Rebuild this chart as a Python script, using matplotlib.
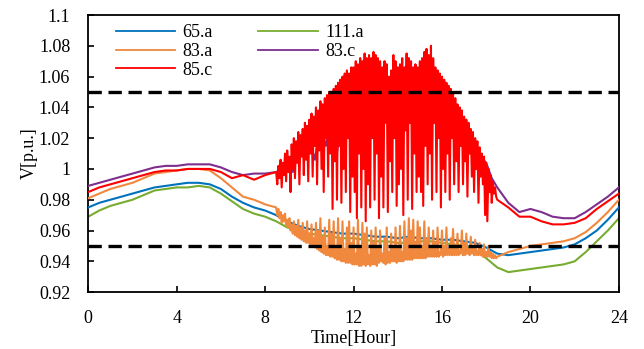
import numpy as np
import matplotlib
matplotlib.use("Agg")
import matplotlib.pyplot as plt

plt.rcParams["font.family"] = ["Liberation Serif", "DejaVu Serif"]

# half-hour samples over the whole day
hours = np.arange(0, 24.01, 0.5)
# split grids for the phases that swing during the PV hours
hours_head = np.arange(0, 8.01, 0.5)
hours_tail = np.arange(19, 24.01, 0.5)
hours_pv = np.round(np.arange(8.5, 18.501, 0.05), 2)
hours_pv_c = np.arange(8.5, 18.51, 0.25)

v_65a = [0.975, 0.978, 0.980, 0.982, 0.984, 0.986, 0.988, 0.989, 0.990, 0.991,
         0.991, 0.990, 0.987, 0.982, 0.978, 0.975, 0.973, 0.970, 0.966, 0.963,
         0.961, 0.960, 0.959, 0.958, 0.958, 0.957, 0.956, 0.956, 0.955, 0.956,
         0.955, 0.955, 0.954, 0.954, 0.953, 0.952, 0.949, 0.945, 0.944, 0.945,
         0.946, 0.947, 0.948, 0.949, 0.951, 0.955, 0.960, 0.967, 0.975]

v_111a = [0.969, 0.973, 0.976, 0.978, 0.980, 0.983, 0.986, 0.987, 0.988, 0.988,
          0.989, 0.988, 0.984, 0.979, 0.974, 0.971, 0.969, 0.966, 0.962, 0.960,
          0.958, 0.957, 0.956, 0.955, 0.955, 0.954, 0.953, 0.953, 0.952, 0.952,
          0.953, 0.953, 0.952, 0.951, 0.950, 0.947, 0.942, 0.936, 0.933, 0.934,
          0.935, 0.936, 0.937, 0.938, 0.940, 0.946, 0.953, 0.960, 0.968]

v_83a_head = [0.981, 0.984, 0.987, 0.989, 0.991, 0.994, 0.997, 0.998, 0.999,
              1.000, 1.000, 0.999, 0.994, 0.988, 0.982, 0.980, 0.977]
v_83a_pv = [
    0.975, 0.970, 0.974, 0.968, 0.972, 0.965, 0.970, 0.966, 0.971, 0.963,
    0.967, 0.962, 0.968, 0.960, 0.964, 0.958, 0.966, 0.957, 0.963, 0.956,
    0.967, 0.955, 0.962, 0.954, 0.965, 0.953, 0.960, 0.952, 0.966, 0.952,
    0.958, 0.951, 0.964, 0.950, 0.955, 0.949, 0.965, 0.948, 0.960, 0.947,
    0.968, 0.946, 0.956, 0.945, 0.962, 0.944, 0.950, 0.944, 0.967, 0.943,
    0.958, 0.943, 0.966, 0.942, 0.950, 0.941, 0.968, 0.941, 0.955, 0.940,
    0.966, 0.940, 0.948, 0.939, 0.962, 0.939, 0.966, 0.939, 0.952, 0.938,
    0.962, 0.938, 0.945, 0.938, 0.967, 0.937, 0.950, 0.937, 0.965, 0.938,
    0.958, 0.937, 0.962, 0.938, 0.944, 0.937, 0.960, 0.938, 0.952, 0.938,
    0.962, 0.937, 0.948, 0.939, 0.960, 0.940, 0.945, 0.939, 0.955, 0.938,
    0.962, 0.939, 0.946, 0.939, 0.958, 0.940, 0.950, 0.940, 0.962, 0.939,
    0.950, 0.940, 0.963, 0.940, 0.946, 0.940, 0.966, 0.941, 0.955, 0.941,
    0.968, 0.941, 0.960, 0.941, 0.967, 0.942, 0.952, 0.942, 0.966, 0.942,
    0.962, 0.942, 0.950, 0.942, 0.966, 0.942, 0.955, 0.943, 0.962, 0.943,
    0.948, 0.943, 0.960, 0.943, 0.952, 0.943, 0.962, 0.943, 0.946, 0.944,
    0.960, 0.943, 0.950, 0.944, 0.962, 0.944, 0.948, 0.944, 0.955, 0.944,
    0.961, 0.944, 0.950, 0.944, 0.958, 0.944, 0.947, 0.945, 0.960, 0.944,
    0.952, 0.944, 0.958, 0.945, 0.948, 0.944, 0.956, 0.945, 0.950, 0.944,
    0.954, 0.944, 0.947, 0.944, 0.952, 0.944, 0.948, 0.943, 0.951, 0.943,
    0.946, 0.943, 0.950, 0.943, 0.946, 0.942, 0.945, 0.942, 0.944, 0.942,
    0.943]
v_83a_tail = [0.946, 0.948, 0.950, 0.951, 0.952, 0.953, 0.955, 0.959, 0.965,
              0.972, 0.980]

v_85c_head = [0.985, 0.988, 0.990, 0.992, 0.994, 0.996, 0.998, 0.999, 0.999,
              1.000, 1.000, 1.000, 0.998, 0.994, 0.996, 0.993, 0.996]
v_85c_pv = [
    0.998, 0.990, 1.002, 0.994, 1.006, 0.988, 1.004, 0.996, 1.010, 0.992,
    1.012, 0.998, 1.008, 0.985, 1.016, 1.000, 1.020, 0.994, 1.018, 1.004,
    1.024, 0.990, 1.022, 1.008, 1.026, 0.996, 1.030, 1.006, 1.028, 0.992,
    1.032, 1.010, 1.036, 0.995, 1.034, 1.015, 1.040, 0.990, 1.038, 1.012,
    1.044, 1.000, 1.042, 0.985, 1.046, 1.020, 1.048, 0.995, 1.050, 1.010,
    1.050, 0.974, 1.052, 1.005, 1.054, 0.980, 1.056, 1.015, 1.058, 0.978,
    1.060, 1.000, 1.062, 0.985, 1.064, 1.020, 1.062, 0.972, 1.066, 0.995,
    1.066, 0.985, 1.070, 0.968, 1.068, 1.010, 1.072, 0.975, 1.070, 1.000,
    1.075, 0.966, 1.072, 0.990, 1.074, 0.975, 1.072, 1.020, 1.076, 0.980,
    1.074, 1.010, 1.072, 0.968, 1.070, 0.995, 1.066, 0.975, 1.070, 1.030,
    1.068, 0.972, 1.060, 1.005, 1.064, 0.985, 1.074, 1.020, 1.070, 0.976,
    1.066, 0.990, 1.068, 1.000, 1.072, 0.970, 1.066, 1.025, 1.075, 0.980,
    1.072, 1.030, 1.070, 0.974, 1.066, 1.010, 1.068, 0.985, 1.066, 0.995,
    1.070, 0.985, 1.072, 0.976, 1.076, 1.015, 1.078, 0.990, 1.074, 1.010,
    1.080, 0.980, 1.072, 1.030, 1.066, 0.985, 1.064, 1.020, 1.062, 0.975,
    1.060, 1.000, 1.058, 0.985, 1.056, 1.010, 1.054, 0.980, 1.052, 1.020,
    1.050, 0.990, 1.046, 1.005, 1.042, 0.985, 1.040, 1.015, 1.038, 0.990,
    1.034, 1.005, 1.032, 0.982, 1.030, 1.010, 1.026, 0.995, 1.024, 0.985,
    1.020, 1.000, 1.018, 0.978, 1.014, 0.995, 1.010, 0.990, 1.008, 0.970,
    1.004, 0.966, 1.000, 0.985, 0.996, 0.978, 0.992, 0.984, 0.988, 0.982,
    0.980]
v_85c_tail = [0.975, 0.969, 0.969, 0.966, 0.964, 0.964, 0.965, 0.968, 0.974,
              0.979, 0.984]

v_83c_head = [0.989, 0.991, 0.993, 0.995, 0.997, 0.999, 1.001, 1.002, 1.002,
              1.003, 1.003, 1.003, 1.001, 0.998, 0.996, 0.997, 0.997]
v_83c_pv = [0.998, 1.000, 1.006, 0.998, 1.014, 1.008, 1.020, 1.006, 1.028, 1.015,
            1.034, 1.010, 1.040, 1.020, 1.046, 1.025, 1.050, 1.030, 1.054, 1.035,
            1.050, 1.030, 1.048, 1.032, 1.054, 1.035, 1.056, 1.038, 1.050, 1.032,
            1.044, 1.030, 1.036, 1.022, 1.028, 1.018, 1.016, 1.008, 1.004, 0.994,
            0.988]
v_83c_tail = [0.978, 0.972, 0.974, 0.972, 0.969, 0.968, 0.968, 0.972, 0.977,
              0.982, 0.988]

v_upper, v_lower = 1.05, 0.95

fig, ax = plt.subplots(figsize=(6.44, 3.49), dpi=100)
fig.subplots_adjust(left=0.137, right=0.961, top=0.957, bottom=0.163)

lw = 1.5
t_full = np.concatenate([hours_head, hours_pv, hours_tail])
t_purple = np.concatenate([hours_head, hours_pv_c, hours_tail])
ax.plot(hours, v_65a, color="#0072BD", lw=lw, zorder=3, label="65.a")
ax.plot(t_full, v_83a_head + v_83a_pv + v_83a_tail,
        color="#F0883E", lw=lw, zorder=4, label="83.a")
ax.plot(t_full, v_85c_head + v_85c_pv + v_85c_tail,
        color="#FF0000", lw=lw, zorder=6, label="85.c")
ax.plot(hours, v_111a, color="#77AC30", lw=lw, zorder=2, label="111.a")
ax.plot(t_purple, v_83c_head + v_83c_pv + v_83c_tail,
        color="#7E2F8E", lw=lw, zorder=5, label="83.c")

for lim in (v_upper, v_lower):
    ax.axhline(lim, color="black", lw=2.4, ls=(0, (4, 2)), zorder=7)

ax.set_xlim(0, 24)
ax.set_ylim(0.92, 1.1)
ax.set_xticks(np.arange(0, 25, 4))
ax.set_yticks(np.arange(0.92, 1.101, 0.02))
ax.set_yticklabels(["0.92", "0.94", "0.96", "0.98", "1", "1.02", "1.04",
                    "1.06", "1.08", "1.1"])
ax.tick_params(direction="in", length=4, width=1.2, labelsize=13,
               top=False, right=False)
ax.tick_params(axis="y", pad=13)
ax.tick_params(axis="x", pad=13)
for s in ax.spines.values():
    s.set_linewidth(1.3)
ax.set_xlabel("Time[Hour]", fontsize=13, labelpad=2)
ax.set_ylabel("V[p.u.]", fontsize=13, labelpad=1)

leg = ax.legend(ncol=2, loc="upper left", frameon=False, fontsize=13,
                handlelength=3.3, handletextpad=0.4, columnspacing=2.5,
                labelspacing=0.1, borderaxespad=0.1,
                bbox_to_anchor=(0.035, 1.0))
for h in leg.get_lines():
    h.set_linewidth(1.3)

fig.savefig("out.png", dpi=100)
